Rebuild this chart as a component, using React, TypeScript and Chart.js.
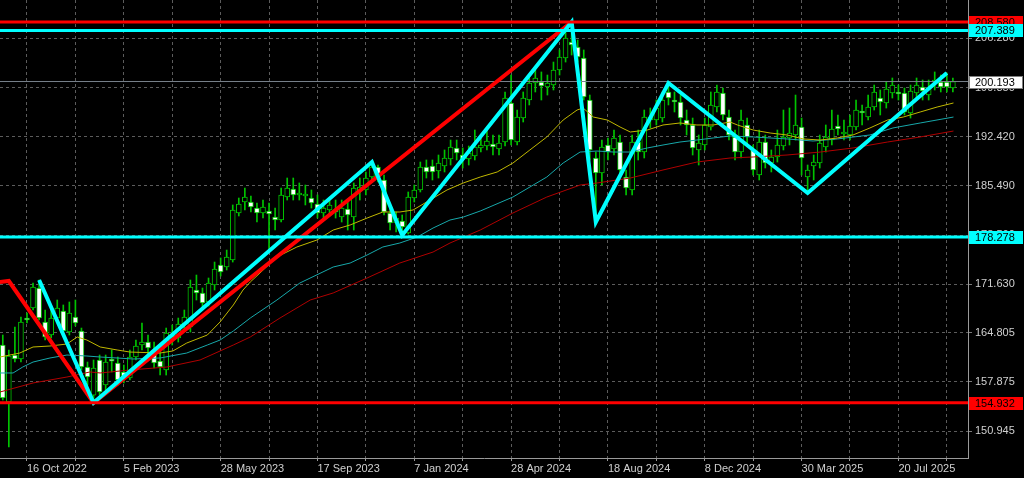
import { useEffect, useRef } from 'react';
import { Chart, registerables } from 'chart.js';

Chart.register(...registerables);

// Weekly candles, index 0 = week of 18 Sep 2022
const opens = [
  163.07, 155.04, 161.66, 161.10, 166.87, 168.28, 171.10, 166.31, 164.48, 166.87,
  167.86, 164.90, 167.01, 165.04, 159.97, 156.02, 160.96, 157.43, 161.10, 160.53,
  159.27, 158.42, 161.38, 163.07, 163.49, 162.37, 160.81, 159.55, 164.48, 164.06,
  166.03, 165.61, 170.82, 170.40, 169.13, 171.52, 174.34, 174.06, 175.05, 181.67,
  183.22, 183.22, 182.37, 181.67, 181.95, 181.10, 180.68, 183.92, 185.05, 184.21,
  184.06, 183.78, 182.94, 181.67, 182.09, 181.95, 181.10, 182.23, 181.10, 184.77,
  184.91, 186.74, 188.15, 186.32, 181.67, 180.26, 180.54, 178.85, 183.78, 184.91,
  188.15, 188.29, 187.59, 188.29, 189.28, 190.83, 189.84, 189.28, 189.70, 190.83,
  191.11, 191.39, 190.69, 191.67, 197.17, 191.67, 195.05, 197.59, 199.99, 200.13,
  199.42, 199.70, 201.82, 203.51, 205.76, 205.06, 203.51, 197.59, 189.42, 187.30,
  191.25, 190.69, 191.67, 186.74, 184.91, 191.67, 190.26, 194.77, 194.77, 195.05,
  198.72, 197.59, 197.31, 194.77, 194.07, 190.55, 191.25, 193.79, 196.60, 198.58,
  195.19, 192.38, 190.26, 194.07, 190.55, 187.02, 191.67, 188.71, 189.56, 191.11,
  192.24, 192.66, 193.79, 186.74, 188.29, 188.71, 190.97, 191.95, 193.93, 192.80,
  192.66, 193.79, 195.90, 195.19, 196.60, 197.87, 197.17, 198.58, 198.72, 198.58,
  195.76, 198.58, 199.42, 198.29, 200.13, 200.13, 200.13, 199.28,
];
const highs = [
  164.48, 162.37, 165.61, 167.01, 167.58, 171.81, 172.23, 168.00, 168.00, 169.41,
  168.71, 169.13, 169.41, 165.46, 160.67, 160.96, 161.66, 161.66, 162.37, 161.38,
  160.25, 162.37, 163.77, 166.17, 164.48, 163.49, 162.37, 165.46, 165.89, 166.87,
  168.00, 172.23, 172.93, 171.10, 172.51, 174.76, 175.33, 176.45, 182.80, 183.78,
  185.19, 184.06, 183.08, 183.50, 183.08, 182.37, 185.19, 186.60, 186.60, 185.90,
  185.61, 184.91, 184.21, 183.50, 183.78, 183.50, 183.50, 183.50, 185.90, 186.60,
  187.45, 188.85, 188.43, 187.02, 182.37, 181.81, 181.39, 184.63, 185.61, 188.85,
  189.14, 189.14, 189.84, 190.55, 191.95, 191.95, 190.83, 191.11, 193.36, 192.24,
  193.65, 192.66, 192.66, 198.72, 201.11, 196.18, 198.72, 200.69, 201.82, 201.54,
  201.11, 202.94, 204.64, 207.45, 208.58, 206.04, 204.64, 198.29, 190.26, 191.95,
  192.24, 193.36, 192.66, 187.73, 192.66, 193.36, 196.18, 196.46, 197.59, 198.72,
  199.99, 198.72, 198.29, 196.18, 195.05, 192.66, 195.05, 198.72, 199.70, 199.28,
  196.18, 193.36, 196.18, 195.05, 191.25, 193.36, 192.66, 190.55, 193.36, 196.18,
  196.46, 198.29, 195.05, 188.43, 189.84, 192.66, 194.07, 196.18, 195.48, 194.77,
  195.48, 197.59, 196.89, 198.29, 199.70, 199.00, 200.13, 200.69, 199.70, 199.28,
  199.70, 200.69, 200.41, 200.41, 201.54, 201.11, 201.40, 200.69,
];
const lows = [
  155.32, 148.70, 160.67, 160.67, 166.17, 168.00, 166.59, 163.77, 164.06, 166.31,
  164.48, 164.48, 165.75, 159.55, 157.43, 154.93, 156.02, 156.73, 159.27, 157.43,
  157.72, 158.14, 160.96, 162.37, 161.66, 159.83, 158.84, 158.84, 163.07, 163.49,
  165.18, 164.90, 169.41, 168.00, 168.56, 170.82, 172.79, 173.64, 174.76, 181.25,
  182.09, 181.81, 180.40, 180.96, 176.45, 179.27, 180.40, 183.50, 183.50, 183.50,
  182.80, 182.37, 180.96, 180.96, 181.39, 180.96, 180.40, 179.27, 179.27, 183.50,
  184.21, 186.04, 186.04, 181.39, 179.27, 179.00, 178.55, 178.70, 183.22, 184.63,
  186.60, 186.32, 186.60, 187.45, 188.43, 189.14, 188.01, 188.43, 189.14, 190.26,
  190.55, 189.84, 189.84, 191.11, 191.25, 191.25, 194.49, 196.89, 198.72, 197.59,
  198.29, 199.00, 201.11, 202.94, 203.93, 202.94, 197.59, 189.14, 180.40, 185.61,
  189.14, 189.84, 187.02, 184.21, 184.21, 189.14, 189.42, 193.65, 194.07, 194.49,
  196.89, 195.90, 194.07, 192.66, 189.84, 188.43, 190.55, 193.36, 195.90, 194.77,
  191.95, 189.14, 189.42, 191.25, 187.02, 186.32, 188.01, 187.45, 188.85, 190.55,
  191.25, 191.95, 187.02, 184.49, 186.32, 188.01, 190.26, 191.25, 192.66, 191.95,
  191.95, 193.36, 194.07, 194.77, 196.18, 195.48, 196.46, 197.87, 197.59, 195.48,
  195.05, 197.87, 197.59, 197.59, 199.00, 198.72, 198.72, 198.72,
];
const closes = [
  155.60, 161.52, 161.10, 166.31, 166.59, 171.24, 166.87, 164.20, 166.87, 168.28,
  165.04, 167.58, 166.17, 159.97, 158.56, 159.83, 156.45, 160.67, 160.81, 158.14,
  158.42, 161.38, 162.93, 163.49, 162.65, 160.53, 159.97, 164.76, 164.20, 166.03,
  167.01, 171.24, 170.40, 168.99, 171.81, 173.78, 173.36, 175.47, 182.09, 182.94,
  183.92, 182.51, 181.67, 182.51, 181.53, 180.68, 184.21, 185.19, 184.21, 184.49,
  184.35, 183.08, 181.67, 182.37, 182.80, 181.81, 182.37, 181.39, 185.19, 185.33,
  186.60, 188.15, 186.74, 181.81, 180.26, 180.96, 179.70, 183.92, 184.91, 188.15,
  187.45, 187.45, 188.71, 189.42, 190.97, 190.12, 189.28, 190.12, 190.97, 191.25,
  191.81, 190.97, 191.53, 197.87, 191.95, 195.19, 197.87, 199.99, 200.69, 199.56,
  199.99, 201.82, 203.65, 206.33, 205.34, 203.65, 198.01, 190.55, 187.30, 190.97,
  190.26, 192.24, 187.73, 185.19, 191.67, 190.26, 195.19, 195.19, 196.46, 197.59,
  197.87, 197.31, 195.05, 194.07, 190.83, 191.53, 194.07, 196.89, 198.72, 195.48,
  192.66, 190.26, 194.77, 192.38, 187.73, 191.67, 188.71, 189.56, 191.25, 192.38,
  192.94, 194.07, 189.42, 187.73, 188.85, 191.53, 192.38, 193.50, 193.50, 193.08,
  193.93, 196.18, 195.76, 196.60, 198.72, 197.31, 199.14, 199.70, 198.44, 195.90,
  198.86, 199.70, 198.86, 199.28, 200.27, 199.42, 199.42, 200.193,
];

// Date axis labels and the candle index (week) each one falls on
const dateTickLabels = [
  '16 Oct 2022', '5 Feb 2023', '28 May 2023', '17 Sep 2023', '7 Jan 2024',
  '28 Apr 2024', '18 Aug 2024', '8 Dec 2024', '30 Mar 2025', '20 Jul 2025',
];
const dateTickWeeks = [4, 20, 36, 52, 68, 84, 100, 116, 132, 148];

const priceTicks = [150.945, 157.875, 164.805, 171.63, 178.56, 185.49, 192.42, 199.35, 206.28];

// Moving averages: [week index, price]
const maFast = [
  [-0.46, 161.38], [2.8, 161.94], [5, 162.79], [7.8, 162.93], [10.6, 163.21], [12.3, 164.2],
  [13.9, 163.77], [16.1, 162.79], [18.9, 162.37], [21, 162.08], [26, 161.94], [28.1, 162.23],
  [30.4, 163.35], [33.8, 164.48], [35.9, 166.31], [38.1, 168.71], [39.7, 170.82], [40.9, 171.95],
  [42.5, 173.21], [45.3, 175.47], [48.6, 176.88], [51.9, 177.86], [54.6, 179.27], [57.4, 179.98],
  [60.2, 180.96], [62.8, 181.81], [65.6, 181.81], [67.8, 182.09], [70.6, 183.5], [73.4, 184.91],
  [76.1, 185.9], [78.9, 186.74], [81.7, 187.45], [84.3, 188.71], [87.1, 190.55], [89.9, 192.38],
  [92.6, 194.77], [94.9, 196.18], [95.9, 196.46], [97.6, 195.19], [99.9, 194.77], [102, 193.79],
  [103.7, 193.08], [106.5, 193.36], [109.1, 194.07], [111.9, 194.35], [114.7, 194.07], [117.4, 194.07],
  [120.2, 194.49], [121.4, 194.07], [124, 193.36], [126.8, 192.94], [129.6, 192.66], [132.3, 192.1],
  [135.1, 191.95], [137.9, 192.24], [140.5, 192.66], [143.3, 193.65], [146.2, 194.77], [148.8, 195.19],
  [151.6, 195.9], [154.4, 196.6], [157.1, 197.17],
];
const maMid = [
  [-0.46, 159.13], [1.7, 159.13], [3.3, 159.97], [5, 160.67], [7.8, 161.24], [10.6, 161.66],
  [13.9, 161.52], [16.1, 161.38], [18.9, 161.24], [21.5, 161.1], [26, 161.24], [30.4, 161.94],
  [33.8, 163.07], [35.9, 163.77], [38.1, 165.04], [40.9, 166.87], [45.3, 169.41], [49.1, 171.81],
  [54.6, 174.06], [57.4, 174.62], [60.2, 175.75], [62.8, 176.88], [65.6, 177.44], [68.5, 178.29],
  [71.1, 179.55], [73.9, 180.68], [76.1, 181.1], [78.9, 181.95], [84.3, 183.92], [89.9, 186.74],
  [92.6, 188.71], [95.4, 190.26], [98.2, 190.4], [100.9, 190.26], [103.7, 190.26], [106.5, 190.83],
  [109.1, 191.25], [111.9, 191.67], [114.7, 191.95], [117.4, 192.24], [120.2, 192.52], [124, 192.38],
  [129.6, 192.1], [133.9, 191.81], [137.9, 192.1], [143.3, 192.66], [147.1, 193.65], [151.6, 194.35],
  [157.1, 195.19],
];
const maSlow = [
  [-0.46, 156.45], [5, 157.72], [10.6, 158.56], [14.4, 159.27], [16.1, 159.13], [21, 159.55],
  [27.1, 159.97], [32.6, 160.96], [38.1, 163.07], [40.9, 164.2], [45.8, 166.87], [50.8, 169.41],
  [54.6, 170.4], [60.2, 172.51], [65.6, 174.62], [71.1, 176.17], [73.9, 177.44], [78.9, 179.27],
  [84.3, 181.67], [89.9, 183.92], [95.4, 185.61], [98.2, 185.9], [103.7, 186.6], [109.1, 187.73],
  [114.7, 188.85], [120.2, 189.42], [124, 189.56], [129.6, 189.84], [135.1, 190.26], [140.5, 190.83],
  [146.2, 191.67], [151.6, 192.38], [157.1, 193.22],
];

// Zigzags: cyan pivots are candle highs / lows, red pivots read as [week, price]
const cyanZigzagPivots = [
  [6, 'H'], [15, 'L'], [61, 'H'], [66, 'L'], [94, 'H'], [98, 'L'], [110, 'H'], [133, 'L'], [156, 'H'],
];
const redZigzag = [[-0.5, 171.95], [1, 172.09], [15, 154.93], [94, 208.58]];

// Horizontal support / resistance levels
const levelValues = [208.58, 207.389, 178.278, 154.932];
const levelColors = ['#ff0000', '#00ffff', '#00ffff', '#ff0000'];

const X_MIN = -0.46;
const X_MAX = 159.5;
const Y_MIN = 147.15;
const Y_MAX = 211.68;

const GREEN = '#00c400';
const FONT = { family: 'Liberation Sans', size: 11 };

export default function App() {
  const ref = useRef<HTMLCanvasElement | null>(null);

  useEffect(() => {
    if (!ref.current) return;
    const idx = opens.map((_, i) => i);
    const wickData = idx.map((i) => ({ x: i, y: [lows[i], highs[i]] }));
    const bodyData = idx.map((i) => ({
      x: i,
      y: [Math.min(opens[i], closes[i]), Math.max(opens[i], closes[i])],
    }));
    const bodyColors = idx.map((i) => (closes[i] >= opens[i] ? '#000000' : '#ffffff'));
    const pts = (arr: number[][]) => arr.map(([x, y]) => ({ x, y }));
    const hLine = (v: number) => [{ x: X_MIN, y: v }, { x: X_MAX, y: v }];
    const lastPrice = closes[closes.length - 1];
    const cyanZig = cyanZigzagPivots.map(([i, t]: any) => ({
      x: i,
      y: t === 'H' ? highs[i] : lows[i],
    }));

    const lineDs = (data: any, color: string, width: number, order: number) => ({
      type: 'line',
      data,
      borderColor: color,
      borderWidth: width,
      pointRadius: 0,
      tension: 0,
      fill: false,
      order,
    });

    const gridWeeks: number[] = [];
    for (let w = dateTickWeeks[0]; w <= X_MAX; w += (dateTickWeeks[1] - dateTickWeeks[0]) / 2) gridWeeks.push(w);

    const bgPlugin = {
      id: 'bg',
      beforeDraw(chart: any) {
        const c = chart.ctx;
        c.save();
        c.fillStyle = '#000000';
        c.fillRect(0, 0, chart.width, chart.height);
        c.restore();
      },
    };

    const labelPlugin = {
      id: 'levelLabels',
      afterDraw(chart: any) {
        const c = chart.ctx;
        const ys = chart.scales.y;
        const left = chart.chartArea.right + 1;
        const boxes = [
          { v: levelValues[0], bg: levelColors[0], border: null },
          { v: levelValues[1], bg: levelColors[1], border: null },
          { v: lastPrice, bg: '#ffffff', border: '#808080' },
          { v: levelValues[2], bg: levelColors[2], border: null },
          { v: levelValues[3], bg: levelColors[3], border: null },
        ];
        c.save();
        c.font = '11px "Liberation Sans"';
        c.textBaseline = 'middle';
        c.textAlign = 'left';
        for (const b of boxes) {
          const py = Math.round(ys.getPixelForValue(b.v));
          c.fillStyle = b.bg;
          c.fillRect(left, py - 6, 54, 13);
          if (b.border) {
            c.strokeStyle = b.border;
            c.lineWidth = 1;
            c.strokeRect(left + 0.5, py - 5.5, 53, 12);
          }
          c.fillStyle = '#000000';
          c.fillText(b.v.toFixed(3), left + 6, py + 1);
        }
        c.restore();
      },
    };

    const chart = new Chart(ref.current, {
      type: 'bar',
      data: {
        datasets: [
          ...levelValues.map((v, k) => lineDs(hLine(v), levelColors[k], 3, 0)),
          lineDs(cyanZig, '#00ffff', 4, 1),
          lineDs(pts(redZigzag), '#ff0000', 4, 2),
          lineDs(hLine(lastPrice), '#77808a', 1, 3),
          lineDs(pts(maFast), '#c0b800', 1, 4),
          lineDs(pts(maMid), '#17a8aa', 1, 5),
          lineDs(pts(maSlow), '#b00000', 1, 6),
          {
            type: 'bar',
            data: bodyData,
            backgroundColor: bodyColors,
            borderColor: GREEN,
            borderWidth: 1,
            borderSkipped: false,
            barThickness: 5,
            minBarLength: 2,
            grouped: false,
            order: 7,
          },
          {
            type: 'bar',
            data: wickData,
            backgroundColor: GREEN,
            borderWidth: 0,
            barThickness: 1,
            grouped: false,
            order: 8,
          },
        ] as any,
      },
      options: {
        animation: false,
        responsive: false,
        devicePixelRatio: 1,
        events: [],
        layout: { padding: 0 },
        plugins: { legend: { display: false }, tooltip: { enabled: false } },
        scales: {
          x: {
            type: 'linear',
            min: X_MIN,
            max: X_MAX,
            offset: false,
            grid: {
              color: '#5c5c5c',
              offset: false,
              tickLength: 3,
              tickColor: '#9a9a9a',
            },
            border: { display: true, color: '#9a9a9a', width: 1, dash: [3, 3] },
            ticks: {
              autoSkip: false,
              maxRotation: 0,
              minRotation: 0,
              align: 'start',
              padding: 1,
              color: '#d0d0d0',
              font: FONT,
              callback: (v: any) => {
                const k = dateTickWeeks.indexOf(Number(v));
                return k >= 0 ? dateTickLabels[k] : '';
              },
            },
            afterBuildTicks: (s: any) => {
              s.ticks = gridWeeks.map((w) => ({ value: w }));
            },
            afterFit: (s: any) => {
              s.height = 20;
              s.paddingLeft = 0;
              s.paddingRight = 0;
            },
          },
          y: {
            type: 'linear',
            position: 'right',
            min: Y_MIN,
            max: Y_MAX,
            grid: { color: '#5c5c5c', tickLength: 4, tickColor: '#7a7a7a' },
            border: { display: true, color: '#9a9a9a', width: 1, dash: [3, 3] },
            ticks: {
              autoSkip: false,
              padding: 3,
              color: '#d0d0d0',
              font: FONT,
              callback: (v: any) => Number(v).toFixed(3),
            },
            afterBuildTicks: (s: any) => {
              s.ticks = priceTicks.map((v) => ({ value: v }));
            },
            afterFit: (s: any) => {
              s.width = 56;
              s.paddingTop = 0;
              s.paddingBottom = 0;
            },
          },
        },
      } as any,
      plugins: [bgPlugin, labelPlugin],
    });
    return () => chart.destroy();
  }, []);

  return (
    <div style={{ position: 'fixed', left: 0, top: 0, width: 1024, height: 478, background: '#000' }}>
      <canvas ref={ref} width={1024} height={478} style={{ display: 'block', width: 1024, height: 478 }} />
    </div>
  );
}
